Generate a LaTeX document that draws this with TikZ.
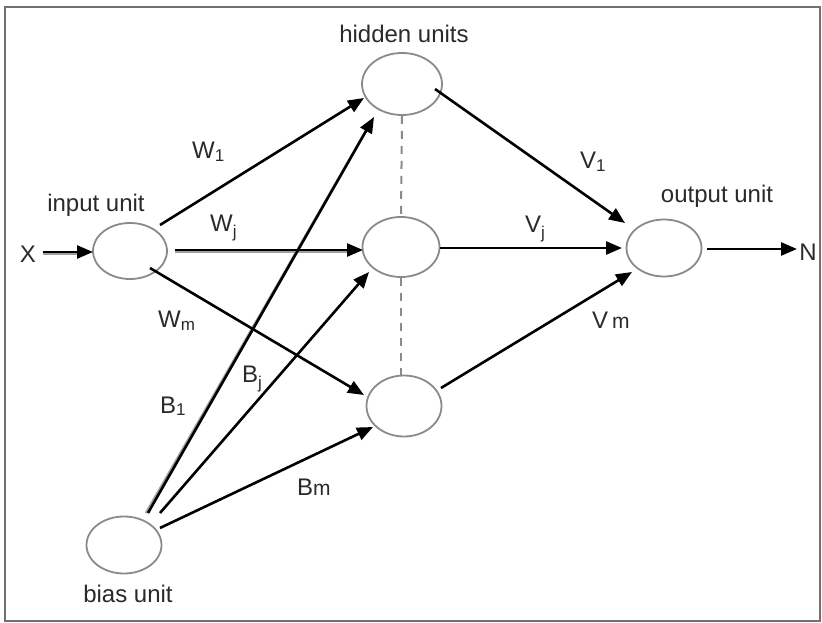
\documentclass[tikz,border=0pt]{standalone}
\usepackage{fontspec}
\setmainfont{Liberation Sans}
\usetikzlibrary{arrows.meta,shapes.geometric}
\definecolor{ink}{HTML}{2A2A2A}
\definecolor{rim}{HTML}{8A8A8A}
\definecolor{framec}{HTML}{707070}
\definecolor{ghost}{HTML}{A0A0A0}
% lowered, smaller index after a weight letter
\newcommand\idx[2]{\raisebox{-#1pt}{\fontsize{17}{17}\selectfont #2}}
\begin{document}
\begin{tikzpicture}[x=1pt,y=-1pt,
  unit/.style={draw=rim, line width=1.8pt, ellipse, inner sep=0pt},
  lbl/.style={font=\fontsize{24}{28}\selectfont, text=ink, inner sep=0pt},
  arr/.style={draw=black, line width=2.6pt, -{Triangle[length=16pt,width=13pt]}},
  halo/.style={draw=ghost, line width=1.8pt},
  link/.style={draw=rim, line width=2pt, dash pattern=on 8pt off 7pt}]

\useasboundingbox (0,0) rectangle (822,623);
\draw[framec, line width=2pt] (5,7) rectangle (820,621);

% units
\node[unit, minimum width=74pt, minimum height=56pt] (in)   at (130,251) {};
\node[unit, minimum width=80pt, minimum height=62pt] (ht)   at (402,84)  {};
\node[unit, minimum width=77pt, minimum height=60pt] (hm)   at (401,247) {};
\node[unit, minimum width=75pt, minimum height=61pt] (hb)   at (404,406) {};
\node[unit, minimum width=75pt, minimum height=57pt] (out)  at (664,248) {};
\node[unit, minimum width=75pt, minimum height=57pt] (bias) at (124,545) {};

% unit captions
\node[lbl, anchor=base] (cap-h) at (404,43)  {hidden units};
\node[lbl, anchor=base] (cap-i) at (96,211)  {input unit};
\node[lbl, anchor=base] (cap-o) at (717,202) {output unit};
\node[lbl, anchor=base] (cap-b) at (128,602) {bias unit};
\node[lbl, anchor=base] (X) at (28,262) {X};
\node[lbl, anchor=base] (N) at (808,260) {N};

% weight labels
\node[lbl, anchor=base west] (w1) at (192,158) {W\idx{3}{1}};
\node[lbl, anchor=base west] (wj) at (210,231) {W\idx{6}{j}};
\node[lbl, anchor=base west] (wm) at (158,327) {W\idx{3}{m}};
\node[lbl, anchor=base west] (v1) at (580,168) {V\idx{3}{1}};
\node[lbl, anchor=base west] (vj) at (525,232) {V\idx{6}{j}};
\node[lbl, anchor=base west] (vm) at (592,328) {V\,{\fontsize{21}{21}\selectfont m}};
\node[lbl, anchor=base west] (b1) at (160,413) {B\idx{2}{1}};
\node[lbl, anchor=base west] (bj) at (242,382) {B\idx{6}{j}};
\node[lbl, anchor=base west] (bm) at (297,495) {B{\fontsize{21}{21}\selectfont m}};

% dashed links between hidden units
\draw[link] (ht.south) -- (hm.north);
\draw[link] (hm.south) -- (hm.south |- hb.north);

% grey doubled strokes hugging some of the connectors
\draw[halo] ([shift={(-87,3.1)}]in.center) -- ([shift={(-52,3.1)}]in.center);
\draw[halo] ([shift={(45,1.1)}]in.center) -- ([shift={(-54,5.1)}]hm.center);
\draw[halo] ([shift={(21.6,-32)}]bias.center) -- ([shift={(-35.4,45)}]ht.center);

% input and output
\draw[arr] ([shift={(-87,1)}]in.center) -- ([shift={(-37,1)}]in.center);
\draw[arr] ([shift={(43,1)}]out.center) -- ([shift={(133,1)}]out.center);

% input to hidden
\draw[arr] ([shift={(30,-26)}]in.center) -- ([shift={(-38,14)}]ht.center);
\draw[arr] ([shift={(45,-1)}]in.center)  -- ([shift={(-38,3)}]hm.center);
\draw[arr] ([shift={(20,17)}]in.center)  -- ([shift={(-40,-11)}]hb.center);

% hidden to output
\draw[arr] ([shift={(33,5)}]ht.center)   -- ([shift={(-39,-25)}]out.center);
\draw[arr] ([shift={(39,1)}]hm.center)   -- ([shift={(-42,0)}]out.center);
\draw[arr] ([shift={(37,-18)}]hb.center) -- ([shift={(-32,24)}]out.center);

% bias to hidden
\draw[arr] ([shift={(24,-32)}]bias.center) -- ([shift={(-28,33)}]ht.center);
\draw[arr] ([shift={(36,-32)}]bias.center) -- ([shift={(-32,25)}]hm.center);
\draw[arr] ([shift={(36,-17)}]bias.center) -- ([shift={(-31,21)}]hb.center);
\end{tikzpicture}
\end{document}
